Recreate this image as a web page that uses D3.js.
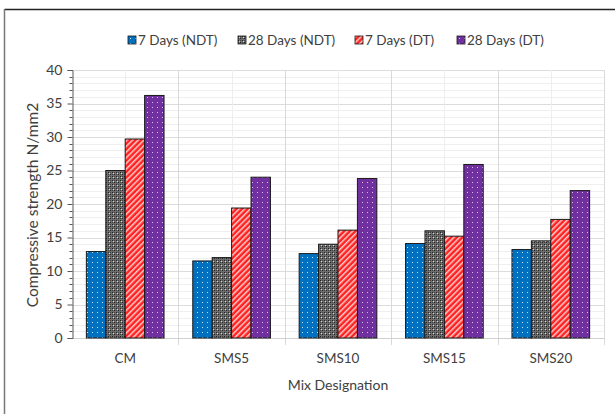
<!DOCTYPE html>
<html>
<head>
<meta charset="utf-8">
<script src="https://cdn.jsdelivr.net/npm/d3@7"></script>
<style>
  body { margin: 0; background: #fff; }
  svg text { font-family: Lato, "Open Sans", sans-serif; fill: #404040; }
</style>
</head>
<body>
<svg id="chart" width="615" height="414"></svg>
<script>
// mix names along the x axis
var mixes = ["CM", "SMS5", "SMS10", "SMS15", "SMS20"];
var seriesNames = ["7 Days (NDT)", "28 Days (NDT)", "7 Days (DT)", "28 Days (DT)"];
// values, one array per series
var ndt7 = [12.9, 11.5, 12.6, 14.1, 13.2];
var ndt28 = [25.0, 12.0, 14.0, 16.0, 14.5];
var dt7 = [29.7, 19.4, 16.1, 15.2, 17.7];
var dt28 = [36.2, 24.0, 23.8, 25.9, 22.0];
var yTicks = [0, 5, 10, 15, 20, 25, 30, 35, 40];

var allSeries = [ndt7, ndt28, dt7, dt28];
var fills = ["url(#pBlue)", "url(#pGrey)", "url(#pRed)", "url(#pPurple)"];

var svg = d3.select("#chart");

// frame around the chart
svg.append("line").attr("x1", 4.5).attr("x2", 615).attr("y1", 9.5).attr("y2", 9.5)
  .attr("stroke", "#222").attr("stroke-width", 1.5);
svg.append("line").attr("x1", 4.5).attr("x2", 4.5).attr("y1", 9).attr("y2", 414)
  .attr("stroke", "#777").attr("stroke-width", 1.5);

// patterns
var defs = svg.append("defs");
var p = defs.append("pattern").attr("id", "pBlue").attr("patternUnits", "userSpaceOnUse")
  .attr("width", 5).attr("height", 5);
p.append("rect").attr("width", 5).attr("height", 5).attr("fill", "#0070c0");
p.append("rect").attr("x", 2).attr("y", 2).attr("width", 1).attr("height", 1).attr("fill", "#cfe3f5");

p = defs.append("pattern").attr("id", "pGrey").attr("patternUnits", "userSpaceOnUse")
  .attr("width", 4).attr("height", 4);
p.append("rect").attr("width", 4).attr("height", 4).attr("fill", "#6e6e6e");
p.append("rect").attr("width", 1).attr("height", 1).attr("fill", "#222");
p.append("rect").attr("x", 2).attr("y", 2).attr("width", 1).attr("height", 1).attr("fill", "#222");
p.append("rect").attr("x", 2).attr("y", 0).attr("width", 1).attr("height", 1).attr("fill", "#444");
p.append("rect").attr("x", 0).attr("y", 2).attr("width", 1).attr("height", 1).attr("fill", "#444");
p.append("rect").attr("x", 1).attr("y", 1).attr("width", 1).attr("height", 1).attr("fill", "#d8d8d8");

p = defs.append("pattern").attr("id", "pRed").attr("patternUnits", "userSpaceOnUse")
  .attr("width", 4).attr("height", 4).attr("patternTransform", "rotate(45)");
p.append("rect").attr("width", 4).attr("height", 4).attr("fill", "#ff2020");
p.append("rect").attr("width", 1.5).attr("height", 4).attr("fill", "#ffd0d0");

p = defs.append("pattern").attr("id", "pPurple").attr("patternUnits", "userSpaceOnUse")
  .attr("width", 5).attr("height", 5);
p.append("rect").attr("width", 5).attr("height", 5).attr("fill", "#7030a0");
p.append("rect").attr("x", 2).attr("y", 2).attr("width", 1).attr("height", 1).attr("fill", "#d6c4e6");

// scales
var x = d3.scaleBand().domain(mixes).range([72, 604]).paddingInner(0.27).paddingOuter(0.135);
var y = d3.scaleLinear().domain([0, 40]).range([338, 70]);
var xIn = d3.scaleBand().domain(d3.range(4)).range([0, x.bandwidth()]);
var step = x.step();

// horizontal gridlines every unit
var g = svg.append("g");
g.selectAll(".hminor").data(d3.range(1, 41)).enter().append("line")
  .attr("x1", 72).attr("x2", 604)
  .attr("y1", function(d){ return Math.round(y(d)) + 0.5; })
  .attr("y2", function(d){ return Math.round(y(d)) + 0.5; })
  .attr("stroke", function(d){ return d % 5 === 0 ? "#dcdcdc" : "#efefef"; });

// vertical gridlines at category edges and centers
var edges = d3.range(6).map(function(i){ return 72 + i * step; });
g.selectAll(".vedge").data(edges.slice(1)).enter().append("line")
  .attr("x1", function(d){ return Math.round(d) + 0.5; })
  .attr("x2", function(d){ return Math.round(d) + 0.5; })
  .attr("y1", 70).attr("y2", 345)
  .attr("stroke", "#d9d9d9");
g.selectAll(".vmid").data(mixes).enter().append("line")
  .attr("x1", function(d){ return Math.round(x(d) + x.bandwidth() / 2) + 0.5; })
  .attr("x2", function(d){ return Math.round(x(d) + x.bandwidth() / 2) + 0.5; })
  .attr("y1", 70).attr("y2", 338)
  .attr("stroke", "#efefef");

// bottom axis line
svg.append("line").attr("x1", 72).attr("x2", 604).attr("y1", 338.5).attr("y2", 338.5)
  .attr("stroke", "#d0d0d0");

// bars
mixes.forEach(function(m, i){
  allSeries.forEach(function(s, j){
    svg.append("rect")
      .attr("x", x(m) + xIn(j))
      .attr("y", y(s[i]))
      .attr("width", xIn.bandwidth())
      .attr("height", y(0) - y(s[i]))
      .attr("fill", fills[j])
      .attr("stroke", "#1a1a1a")
      .attr("stroke-width", 1);
  });
});

// y axis
var yAxis = d3.axisLeft(y).tickValues(yTicks).tickSize(5).tickPadding(5);
var ya = svg.append("g").attr("transform", "translate(72.5,0)").call(yAxis);
ya.select(".domain").attr("stroke", "#595959");
ya.selectAll(".tick line").attr("stroke", "#595959");
ya.selectAll("text").attr("font-size", 14).style("font-family", "Lato, sans-serif").attr("fill", "#333");
// minor ticks
ya.selectAll(".mt").data(d3.range(0, 41).filter(function(d){ return d % 5 !== 0; })).enter()
  .append("line")
  .attr("x1", -3).attr("x2", 0)
  .attr("y1", function(d){ return Math.round(y(d)) + 0.5; })
  .attr("y2", function(d){ return Math.round(y(d)) + 0.5; })
  .attr("stroke", "#595959");

// category labels
svg.selectAll(".cat").data(mixes).enter().append("text")
  .attr("x", function(d){ return x(d) + x.bandwidth() / 2; })
  .attr("y", 363)
  .attr("text-anchor", "middle")
  .attr("font-size", 13.5)
  .text(function(d){ return d; });

// axis titles
svg.append("text").attr("x", 338).attr("y", 390).attr("text-anchor", "middle")
  .attr("font-size", 14).text("Mix Designation");
svg.append("text").attr("transform", "translate(38,205) rotate(-90)")
  .attr("text-anchor", "middle").attr("font-size", 15.5)
  .text("Compressive strength N/mm2");

// legend
var legendX = [128, 238, 355, 457];
var lg = svg.selectAll(".lg").data(seriesNames).enter().append("g")
  .attr("transform", function(d, i){ return "translate(" + legendX[i] + ",36)"; });
lg.append("rect").attr("width", 8).attr("height", 8)
  .attr("fill", function(d, i){ return fills[i]; })
  .attr("stroke", "#1a1a1a").attr("stroke-width", 0.8);
lg.append("text").attr("x", 10).attr("y", 9).attr("font-size", 13.5).attr("fill", "#222")
  .text(function(d){ return d; });
</script>
</body>
</html>
